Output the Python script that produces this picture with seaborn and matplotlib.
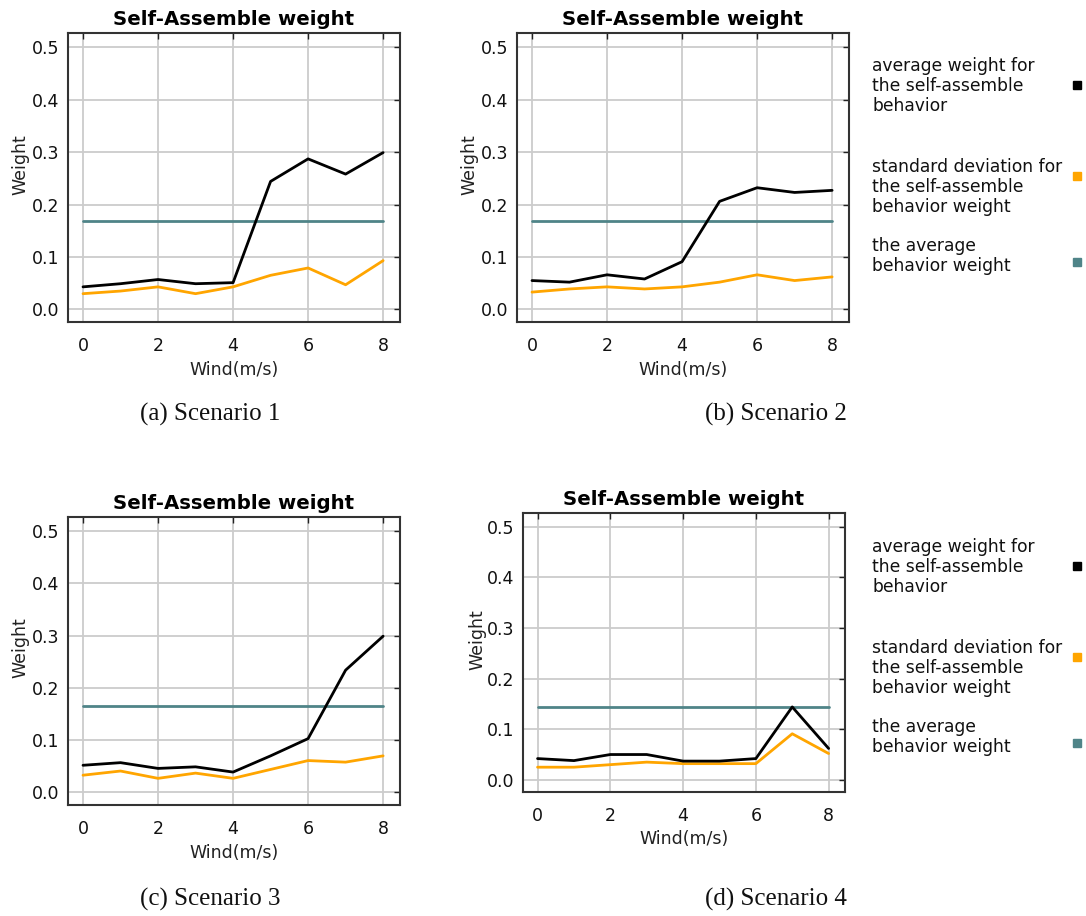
import numpy as np
import pandas as pd
import matplotlib
matplotlib.use("Agg")
import matplotlib.pyplot as plt
from matplotlib.lines import Line2D
import seaborn as sns

# ---------------- data ----------------
wind = [0, 1, 2, 3, 4, 5, 6, 7, 8]

s1_avg = [0.043, 0.049, 0.057, 0.049, 0.051, 0.244, 0.287, 0.258, 0.299]
s1_std = [0.030, 0.035, 0.043, 0.030, 0.043, 0.065, 0.079, 0.047, 0.093]
s1_all = 0.168

s2_avg = [0.055, 0.052, 0.066, 0.058, 0.091, 0.206, 0.232, 0.223, 0.227]
s2_std = [0.033, 0.039, 0.043, 0.039, 0.043, 0.052, 0.066, 0.055, 0.062]
s2_all = 0.168

s3_avg = [0.052, 0.057, 0.046, 0.049, 0.039, 0.070, 0.103, 0.234, 0.299]
s3_std = [0.033, 0.041, 0.027, 0.037, 0.027, 0.044, 0.061, 0.058, 0.070]
s3_all = 0.166

s4_avg = [0.042, 0.038, 0.050, 0.050, 0.037, 0.037, 0.042, 0.144, 0.062]
s4_std = [0.025, 0.025, 0.030, 0.035, 0.032, 0.032, 0.032, 0.091, 0.052]
s4_all = 0.143

captions = ["(a) Scenario 1", "(b) Scenario 2", "(c) Scenario 3", "(d) Scenario 4"]
title = "Self-Assemble weight"
xlabel = "Wind(m/s)"
ylabel = "Weight"
xticks = [0, 2, 4, 6, 8]
yticks = [0.0, 0.1, 0.2, 0.3, 0.4, 0.5]
ytick_labels = ["0.0", "0.1", "0.2", "0.3", "0.4", "0.5"]
legend_labels = ["average weight for\nthe self-assemble\nbehavior",
                 "standard deviation for\nthe self-assemble\nbehavior weight",
                 "the average\nbehavior weight"]

series_names = ["avg", "std", "all"]
colors = {"avg": "#000000", "std": "#FFA500", "all": "#4F8488"}
widths = {"avg": 2.0, "std": 2.0, "all": 2.0}

# ---------------- style ----------------
sns.set_style("white")
plt.rcParams['font.family'] = ['DejaVu Sans']

W, H = 1086, 916
fig = plt.figure(figsize=(W / 100, H / 100), dpi=100)

def px_rect(l, t, r, b):
    return [l / W, 1 - b / H, (r - l) / W, (b - t) / H]

rects = [px_rect(68, 33, 400, 322), px_rect(517, 33, 849, 322),
         px_rect(68, 517, 400, 805), px_rect(523, 513, 845, 792)]

panels = [(s1_avg, s1_std, s1_all), (s2_avg, s2_std, s2_all),
          (s3_avg, s3_std, s3_all), (s4_avg, s4_std, s4_all)]

for rect, (avg, std, allv) in zip(rects, panels):
    ax = fig.add_axes(rect)
    df = pd.DataFrame({
        "Wind": wind * 3,
        "Weight": list(avg) + list(std) + [allv] * len(wind),
        "series": ["avg"] * len(wind) + ["std"] * len(wind) + ["all"] * len(wind),
    })
    for name in ["all", "std", "avg"]:
        sns.lineplot(data=df[df.series == name], x="Wind", y="Weight",
                     color=colors[name], linewidth=widths[name], ax=ax,
                     legend=False, zorder=3)
    ax.set_xlim(-0.4, 8.45)
    ax.set_ylim(-0.024, 0.527)
    ax.set_xticks(xticks)
    ax.set_yticks(yticks)
    ax.set_yticklabels(ytick_labels)
    ax.grid(True, color="#cccccc", linewidth=1.3, zorder=0)
    ax.set_axisbelow(True)
    for sp in ax.spines.values():
        sp.set_color("#333333")
        sp.set_linewidth(1.5)
    ax.tick_params(direction="in", length=4.5, width=1.0, color="#222222",
                   top=True, right=True, labelsize=12.5, labelcolor="#111111")
    ax.tick_params(axis="y", pad=6)
    ax.tick_params(axis="x", pad=11)
    ax.set_title(title, fontsize=14.2, fontweight="bold", pad=6, color="#000000")
    ax.set_xlabel(xlabel, fontsize=12.5, color="#222222")
    ax.set_ylabel(ylabel, fontsize=12.5, color="#222222")
    ax.xaxis.set_label_coords(0.5, -0.135)
    ax.yaxis.set_label_coords(-0.115, 0.545)

# captions
cap_pos = [(210, 414), (776, 414), (210, 899), (776, 899)]
for (cx, cy), cap in zip(cap_pos, captions):
    fig.text(cx / W, 1 - cy / H, cap, ha="center", va="center",
             fontsize=18, family="Liberation Serif", color="#111111")

# legends (two copies, right of top and bottom rows)
for dy in [0, 481]:
    text_y = [86, 187, 256]
    mark_y = [85, 176, 262]
    for lab, ty, my, name in zip(legend_labels, text_y, mark_y, series_names):
        fig.text(872 / W, 1 - (ty + dy) / H, lab, ha="left", va="center",
                 fontsize=12.3, linespacing=1.15, color="#111111")
        fig.add_artist(Line2D([1077 / W], [1 - (my + dy) / H], marker="s",
                              markersize=6, color=colors[name], linestyle="none",
                              transform=fig.transFigure))

fig.savefig("out.png", dpi=100)
